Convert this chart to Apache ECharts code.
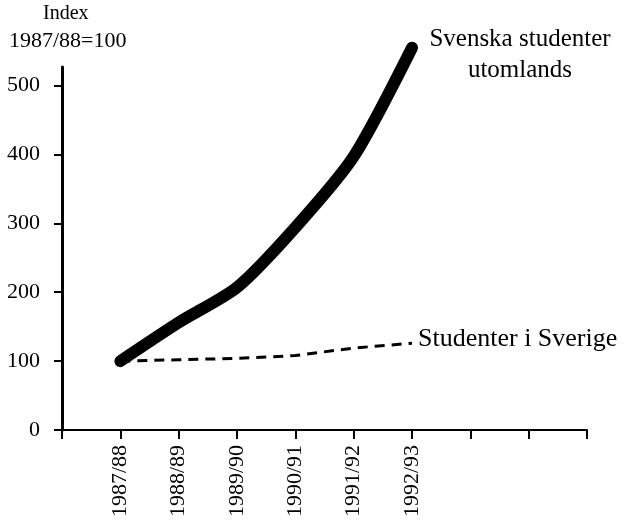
<!DOCTYPE html>
<html>
<head>
<meta charset="utf-8">
<script src="https://cdn.jsdelivr.net/npm/echarts@6/dist/echarts.min.js"></script>
<style>
  html, body { margin: 0; padding: 0; background: #fff; }
  #chart { width: 626px; height: 522px; }
</style>
</head>
<body>
<div id="chart"></div>
<script>
// läsår som visas på x-axeln
var years = ['1987/88', '1988/89', '1989/90', '1990/91', '1991/92', '1992/93'];
var utomlands = [100, 156, 207, 294, 397, 555];   // Svenska studenter utomlands
var sverige = [100, 102, 104, 108, 119, 126];      // Studenter i Sverige
var yTicks = [0, 100, 200, 300, 400, 500];

// en tom plats före och tre efter, som i originalet
var cats = [''].concat(years, ['', '', '']);
function pad(arr) {
  return [null].concat(arr, [null, null, null]);
}

var font = 'Liberation Serif';
var chart = echarts.init(document.getElementById('chart'));

var option = {
  animation: false,
  grid: { left: 62, right: 39, top: 67, bottom: 92 },
  xAxis: {
    type: 'category',
    data: cats,
    boundaryGap: false,
    axisLine: { lineStyle: { color: '#000', width: 2 } },
    axisTick: { interval: 0, length: 9, lineStyle: { color: '#000', width: 2 } },
    axisLabel: {
      interval: 0, rotate: 90, margin: 15,
      color: '#000', fontFamily: font, fontSize: 22
    },
    splitLine: { show: false }
  },
  yAxis: {
    type: 'value',
    min: 0, max: 527, interval: 100,
    axisLine: { show: true, lineStyle: { color: '#000', width: 3 } },
    axisTick: { show: true, length: 8, customValues: yTicks, lineStyle: { color: '#000', width: 2 } },
    axisLabel: { customValues: yTicks, margin: 22, color: '#000', fontFamily: font, fontSize: 22 },
    splitLine: { show: false }
  },
  series: [
    {
      name: 'Svenska studenter utomlands',
      type: 'line',
      data: pad(utomlands),
      symbol: 'none',
      smooth: 0.25,
      clip: false,
      lineStyle: { color: '#000', width: 12, cap: 'round', join: 'round' }
    },
    {
      name: 'Studenter i Sverige',
      type: 'line',
      data: pad(sverige),
      symbol: 'none',
      clip: false,
      lineStyle: { color: '#000', width: 3, type: [10, 7] }
    }
  ],
  graphic: [
    { type: 'text', left: 43, top: 4, style: { text: 'Index', font: '20px ' + font, fill: '#000' } },
    { type: 'text', left: 9, top: 30, style: { text: '1987/88=100', font: '22px ' + font, fill: '#000' } },
    {
      type: 'text', x: 520, y: 24,
      style: { text: 'Svenska studenter\nutomlands', font: '25px ' + font, fill: '#000', align: 'center', lineHeight: 31 }
    },
    {
      type: 'text', x: 418, y: 339,
      style: { text: 'Studenter i Sverige', font: '26px ' + font, fill: '#000', verticalAlign: 'middle' }
    }
  ]
};
chart.setOption(option);
</script>
</body>
</html>
